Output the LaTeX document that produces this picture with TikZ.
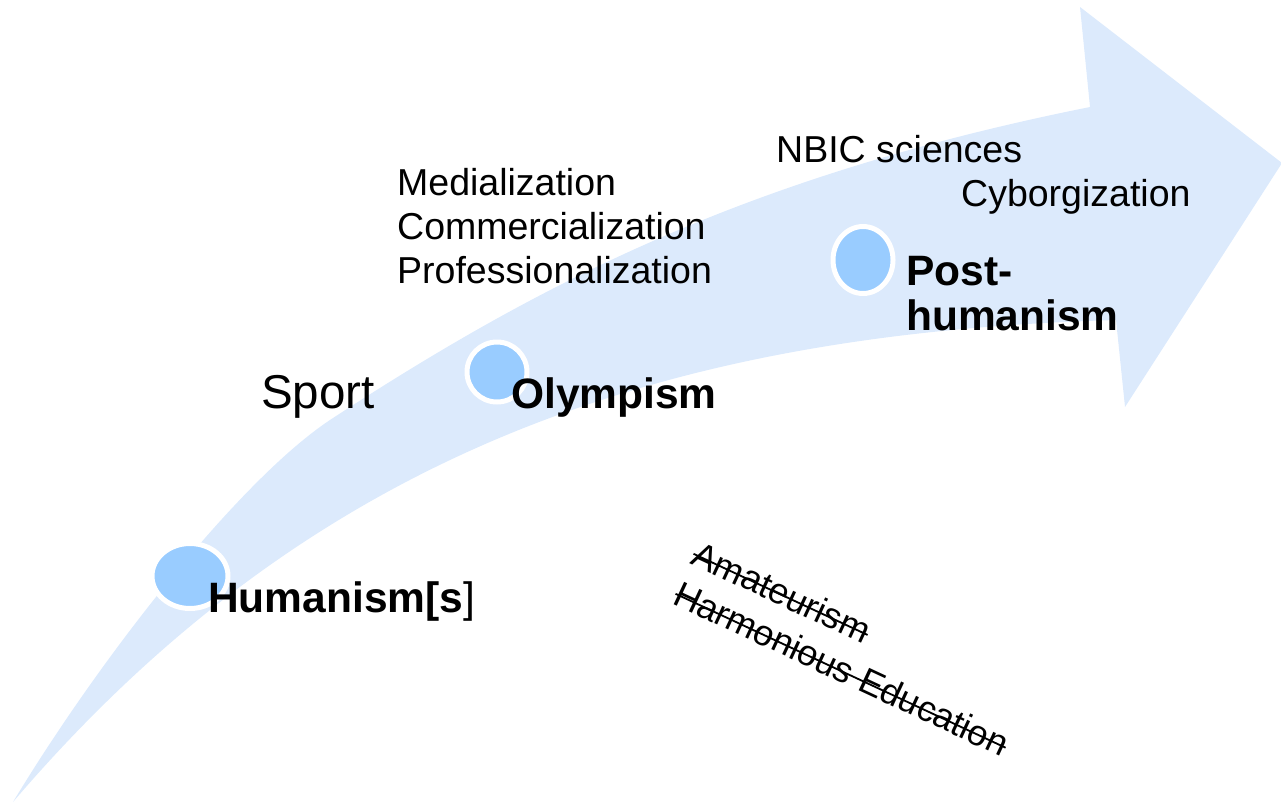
\documentclass[tikz,border=0pt]{standalone}
\usepackage{fontspec}
\setmainfont{Liberation Sans}
\usetikzlibrary{shapes.geometric}
\definecolor{arrowfill}{HTML}{DCEAFC}
\definecolor{dotfill}{HTML}{99CCFF}
\newcommand{\crossout}[1]{\setbox0\hbox{#1}\rlap{\rule[0.26em]{\wd0}{1.8pt}}\box0}

\begin{document}
\begin{tikzpicture}[x=1pt,y=-1pt
	,dot/.style={ellipse,draw=white,line width=5pt,fill=dotfill,inner sep=0}
	,txt/.style={anchor=base west,inner sep=0,font=\fontsize{37.5}{44}\selectfont}
	,big/.style={anchor=base west,inner sep=0,font=\fontsize{42.5}{45}\selectfont\bfseries}
]

\useasboundingbox (0,0) rectangle (1281,803);
\clip (0,0) rectangle (1281,803);

% the arrow
\fill[arrowfill] (13,802) .. controls (103,653) and (243,476) .. (333,418)
	.. controls (533,288) and (740,177) .. (1090,107)
	-- (1080,7) -- (1282,163) -- (1125,407) -- (1116,320)
	.. controls (666,333) and (313,451) .. (13,802)
	-- cycle;

\foreach \n/\x/\y/\w/\h in {h/190/576/76/65, o/497/372/60/60, p/863/260/60/67}{
	\node[dot,minimum width=\w pt,minimum height=\h pt](\n) at(\x,\y) {};
}

\node[big](hum) at(208,612) {Humanism[s\textmd{]}};
\node[big](oly) at(511,408) {Olympism};
\node[big](post) at(906,285) {Post-};
\node[big](posth) at(906,330) {humanism};

\node[txt,font=\fontsize{47.5}{50}\selectfont](sport) at(261,408) {Sport};
\foreach \t [count=\i] in {Medialization,Commercialization,Professionalization}{
	\node[txt](m\i) at(397,151+44*\i) {\t};
}
\node[txt](nbic) at(776,162) {NBIC sciences};
\node[txt](cyb) at(961,206) {Cyborgization};

\node[txt,font=\fontsize{36}{43}\selectfont,rotate=-25](amat) at(689,563) {\crossout{Amateurism}};
\node[txt,font=\fontsize{36}{43}\selectfont,rotate=-25](harm) at(671,603) {\crossout{Harmonious Education}};

\end{tikzpicture}
\end{document}
